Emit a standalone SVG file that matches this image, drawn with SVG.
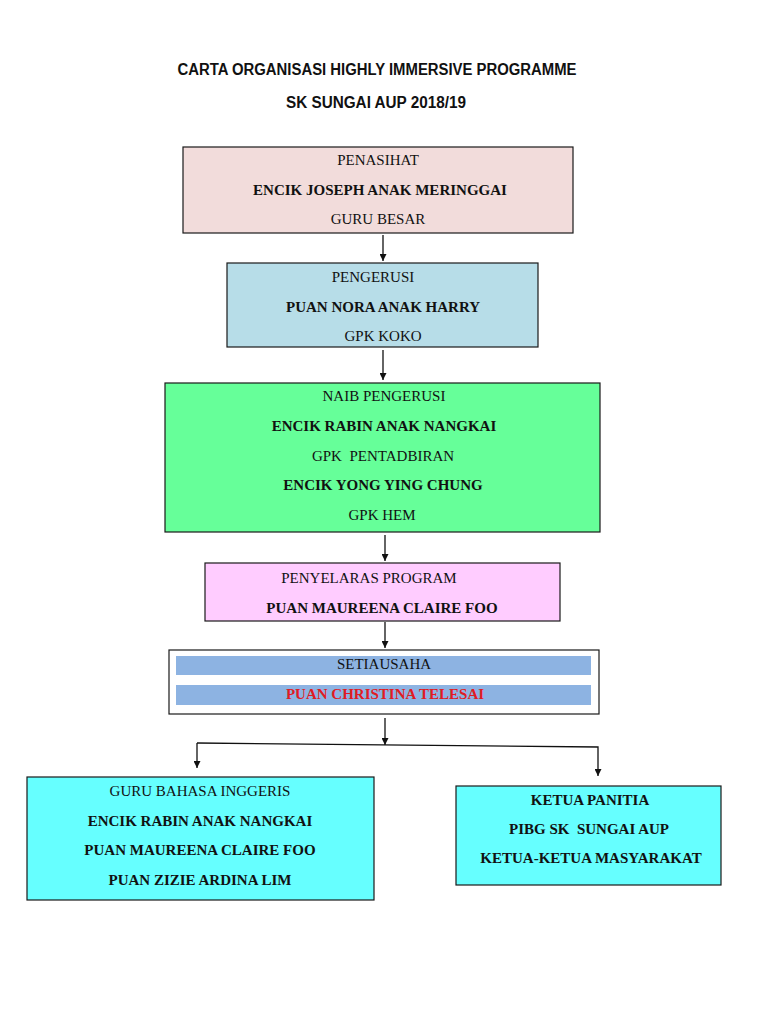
<svg xmlns="http://www.w3.org/2000/svg" width="768" height="1024" viewBox="0 0 768 1024">
<style>
.box{stroke:#1a1a1a;stroke-width:1.2}
.t{font-family:"Liberation Serif","Times New Roman",serif;font-size:15px;fill:#111;text-anchor:middle}
.b{font-weight:bold}
.title{font-family:"Liberation Sans",Arial,sans-serif;font-weight:bold;font-size:16px;fill:#111;text-anchor:middle}
.c{stroke:#111;stroke-width:1.3;fill:none}
</style>
<defs>
<marker id="ah" viewBox="0 0 10 10" refX="10" refY="5" markerWidth="8" markerHeight="7" orient="auto" markerUnits="userSpaceOnUse">
<path d="M0,0 L10,5 L0,10 z" fill="#111"/>
</marker>
</defs>
<rect width="768" height="1024" fill="#fff"/>
<text class="title" x="377" y="75" textLength="399" lengthAdjust="spacingAndGlyphs">CARTA ORGANISASI HIGHLY IMMERSIVE PROGRAMME</text>
<text class="title" x="376" y="108" textLength="180" lengthAdjust="spacingAndGlyphs">SK SUNGAI AUP 2018/19</text>

<g id="penasihat">
<rect class="box" x="183" y="147" width="390" height="86" fill="#f2dcdb"/>
<text class="t" x="378" y="165">PENASIHAT</text>
<text class="t b" x="380" y="195">ENCIK JOSEPH ANAK MERINGGAI</text>
<text class="t" x="378" y="224">GURU BESAR</text>
</g>
<g id="pengerusi">
<rect class="box" x="227" y="263" width="311" height="84" fill="#b7dde8"/>
<text class="t" x="373" y="282">PENGERUSI</text>
<text class="t b" x="383" y="312">PUAN NORA ANAK HARRY</text>
<text class="t" x="383" y="341">GPK KOKO</text>
</g>
<g id="naib">
<rect class="box" x="165" y="383" width="435" height="149" fill="#66ff99"/>
<text class="t" x="384" y="401">NAIB PENGERUSI</text>
<text class="t b" x="384" y="431">ENCIK RABIN ANAK NANGKAI</text>
<text class="t" x="383" y="461" xml:space="preserve">GPK  PENTADBIRAN</text>
<text class="t b" x="383" y="490">ENCIK YONG YING CHUNG</text>
<text class="t" x="382" y="520">GPK HEM</text>
</g>
<g id="penyelaras">
<rect class="box" x="205" y="563" width="355" height="58" fill="#ffccff"/>
<text class="t" x="369" y="583">PENYELARAS PROGRAM</text>
<text class="t b" x="382" y="613">PUAN MAUREENA CLAIRE FOO</text>
</g>
<g id="setiausaha">
<rect class="box" x="169" y="650" width="430" height="64" fill="#fff"/>
<rect x="176" y="656" width="415" height="19" fill="#8db3e2"/>
<rect x="176" y="685" width="415" height="20" fill="#8db3e2"/>
<text class="t" x="384" y="669">SETIAUSAHA</text>
<text class="t b" x="385" y="699" style="fill:#e01b24">PUAN CHRISTINA TELESAI</text>
</g>
<g id="guru">
<rect class="box" x="27" y="777" width="347" height="123" fill="#66ffff"/>
<text class="t" x="200" y="796">GURU BAHASA INGGERIS</text>
<text class="t b" x="200" y="826">ENCIK RABIN ANAK NANGKAI</text>
<text class="t b" x="200" y="855">PUAN MAUREENA CLAIRE FOO</text>
<text class="t b" x="200" y="885">PUAN ZIZIE ARDINA LIM</text>
</g>
<g id="ketua">
<rect class="box" x="456" y="786" width="265" height="99" fill="#66ffff"/>
<text class="t b" x="590" y="805">KETUA PANITIA</text>
<text class="t b" x="589" y="834" xml:space="preserve">PIBG SK  SUNGAI AUP</text>
<text class="t b" x="591" y="863">KETUA-KETUA MASYARAKAT</text>
</g>

<g id="connectors">
<line class="c" x1="383" y1="235" x2="383" y2="261" marker-end="url(#ah)"/>
<line class="c" x1="383" y1="350" x2="383" y2="380" marker-end="url(#ah)"/>
<line class="c" x1="385" y1="535" x2="385" y2="561" marker-end="url(#ah)"/>
<line class="c" x1="385" y1="622" x2="385" y2="648" marker-end="url(#ah)"/>
<line class="c" x1="385" y1="718" x2="385" y2="745" marker-end="url(#ah)"/>
<polyline class="c" points="197,743 598,747 598,776" marker-end="url(#ah)"/>
<line class="c" x1="197" y1="743" x2="197" y2="768" marker-end="url(#ah)"/>
</g>
</svg>
